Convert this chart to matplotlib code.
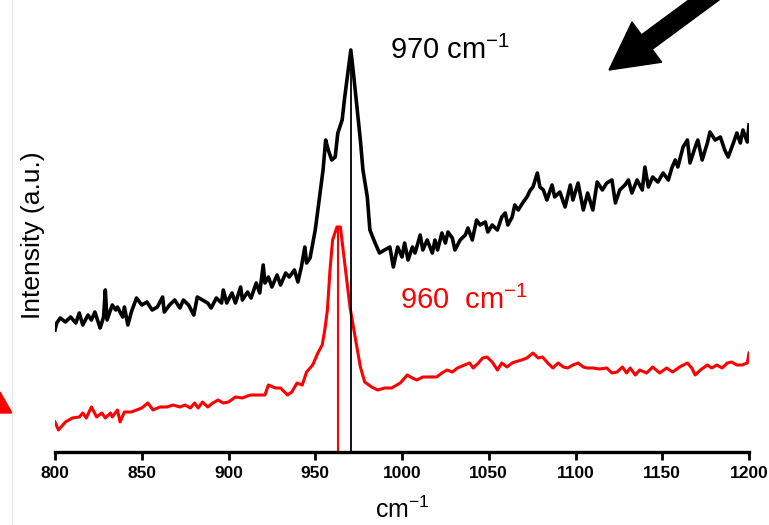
import matplotlib
matplotlib.use("Agg")
import matplotlib.pyplot as plt
from matplotlib.patches import FancyArrow, Polygon
from matplotlib.lines import Line2D

plt.rcParams['font.family'] = ['Liberation Sans', 'DejaVu Sans']
plt.rcParams['mathtext.default'] = 'regular'

# black spectrum (wavenumber, intensity a.u.)
wn_black = [800, 801, 803, 806, 809, 812, 814, 816, 819, 821, 823, 826, 828, 829,
            830, 833, 835, 836, 839, 840, 842, 844, 847, 850, 853, 856, 859, 862,
            863, 866, 869, 872, 874, 877, 880, 882, 885, 888, 890, 893, 896, 897,
            899, 902, 904, 907, 908, 911, 913, 916, 918, 920, 921, 923, 925, 928,
            930, 933, 935, 938, 940, 942, 944, 945, 947, 950, 953, 954.5, 956,
            957.5, 959.5, 961.5, 963, 965.5, 967, 969, 970.5, 972, 974, 976, 977.5,
            980, 981.5, 984.5, 987, 990, 993, 995, 997.5, 1000, 1001.5, 1003.5,
            1006, 1007.5, 1010.5, 1012, 1014.5, 1017.5, 1019, 1020.5, 1023, 1025,
            1026.5, 1029, 1030.5, 1033.5, 1036.5, 1038, 1040.5, 1043, 1045, 1048,
            1049.5, 1052, 1055, 1057.5, 1059.5, 1061, 1063.5, 1065, 1067, 1069.5,
            1072, 1074, 1075.5, 1078, 1079.5, 1081.5, 1083.5, 1086.5, 1088, 1091,
            1094, 1097, 1098.5, 1101.5, 1104.5, 1107, 1110, 1112.5, 1115.5, 1118,
            1121, 1123, 1125.5, 1128.5, 1130.5, 1132.5, 1135.5, 1138.5, 1140, 1142,
            1144.5, 1147.5, 1150.5, 1153.5, 1155.5, 1157.5, 1159, 1162, 1164.5,
            1166, 1169, 1170.5, 1173, 1176, 1177.5, 1180.5, 1183.5, 1186, 1188,
            1191, 1193, 1195, 1196.5, 1199, 1200]
int_black = [122, 129, 134, 130, 135, 129, 139, 127, 137, 132, 140, 124, 135, 162,
             132, 147, 142, 145, 135, 145, 127, 140, 154, 147, 150, 142, 145, 155,
             140, 147, 152, 144, 152, 147, 137, 155, 152, 149, 144, 154, 149, 162,
             149, 159, 149, 165, 152, 160, 154, 169, 159, 187, 169, 175, 165, 177,
             167, 179, 175, 182, 170, 185, 205, 189, 194, 222, 262, 282, 312,
             302, 292, 295, 319, 332, 355, 382, 402, 379, 345, 312, 282,
             255, 222, 209, 199, 202, 205, 185, 205, 195, 209, 192,
             205, 199, 217, 202, 212, 199, 212, 202, 219, 209,
             220, 214, 202, 212, 217, 224, 212, 232, 227, 230,
             220, 227, 222, 235, 239, 227, 235, 247, 242, 249,
             255, 262, 265, 279, 265, 262, 252, 267, 255, 260,
             245, 267, 252, 269, 242, 259, 242, 270, 262, 269,
             272, 249, 262, 267, 272, 259, 272, 262, 285, 265,
             275, 270, 279, 272, 284, 292, 285, 305, 312,
             289, 305, 312, 292, 309, 320, 312, 315, 302, 295,
             309, 319, 309, 322, 310, 327]

# red spectrum
wn_red = [800, 802, 806, 810, 814, 816, 818, 821, 824, 827, 829, 832, 833, 836,
          837.5, 840, 844, 847, 850, 853.5, 856.5, 860.5, 864.5, 868, 872, 875,
          878, 880.5, 882.5, 885, 888, 891, 894, 897, 900, 904, 908, 912.5, 918,
          921, 923, 927, 930, 934, 936.5, 939.5, 942.5, 945, 948.5, 951.5, 954,
          955.5, 957, 958.5, 960, 962.5, 964.5, 967, 970, 973, 976, 978.5, 982.5,
          986, 990, 994, 999, 1003, 1006, 1008.5, 1012, 1016, 1020, 1023, 1026,
          1029, 1032, 1036, 1039, 1041, 1044, 1046.5, 1049, 1052, 1055, 1057.5,
          1060.5, 1063.5, 1065, 1069, 1072, 1075.5, 1078.5, 1081, 1084, 1087,
          1090, 1093, 1095.5, 1098.5, 1101.5, 1104.5, 1107, 1110, 1114, 1118, 1121,
          1124, 1127, 1129.5, 1131.5, 1134.5, 1137, 1141, 1144.5, 1148.5, 1152.5,
          1156, 1160, 1164.5, 1167, 1169, 1172, 1176, 1178.5, 1181.5, 1184.5,
          1187.5, 1190, 1193, 1196, 1199, 1200]
int_red = [30, 22, 30, 34, 35, 39, 34, 45, 35, 39, 34, 39, 35, 42,
           30, 40, 40, 42, 44, 49, 42, 45, 45, 47, 45, 47,
           44, 49, 44, 50, 45, 49, 52, 49, 50, 55, 54, 57, 57,
           57, 67, 64, 64, 57, 60, 69, 67, 80, 87, 99, 107,
           122, 142, 182, 212, 225, 225, 189, 145, 115, 85, 70, 65,
           62, 64, 64, 69, 77, 74, 72, 75, 75, 75, 79, 82,
           80, 84, 87, 89, 84, 89, 94, 95, 90, 82, 89,
           85, 89, 90, 92, 94, 99, 94, 95, 89, 84,
           89, 85, 84, 87, 89, 85, 84, 84, 83, 84, 79,
           80, 85, 79, 84, 77, 82, 79, 85, 79, 84,
           80, 85, 89, 84, 77, 82, 87, 84, 87, 84,
           89, 90, 87, 87, 89, 99]

peak_black = 970.5
peak_black_top = 395
peak_red = 963.4
peak_red_top = 225

xticks = [800, 850, 900, 950, 1000, 1050, 1100, 1150, 1200]

fig = plt.figure(figsize=(7.69, 5.25), dpi=100)
ax = fig.add_axes([55 / 769, 73 / 525, 694 / 769, 452 / 525])

ax.plot(wn_black, int_black, color='black', lw=2.6, solid_joinstyle='round')
ax.plot(wn_red, int_red, color='red', lw=2.2, solid_joinstyle='round')
ax.plot([peak_black, peak_black], [0, peak_black_top], color='black', lw=1.3)
ax.plot([peak_red, peak_red], [0, peak_red_top], color='red', lw=1.5)

ax.set_xlim(800, 1200)
ax.set_ylim(0, 452)
ax.set_xticks(xticks)
ax.set_xticklabels([str(t) for t in xticks], fontweight='bold', fontsize=12.5)
ax.set_yticks([])
for s in ['top', 'right', 'left']:
    ax.spines[s].set_visible(False)
ax.spines['bottom'].set_linewidth(2.4)
ax.tick_params(axis='x', direction='out', length=6, width=2, pad=4)

ax.set_xlabel('cm$^{-1}$', fontsize=18, labelpad=11)
ax.set_ylabel('Intensity (a.u.)', fontsize=19)
ax.yaxis.set_label_coords(-0.014, 0.48)

ax.text(993, 402, '970 cm$^{-1}$', fontsize=21, color='black', va='center')
ax.text(999, 152, '960  cm$^{-1}$', fontsize=21, color='red', va='center')

# black arrow top right (figure inches)
arr = FancyArrow(7.31, 5.45, -1.22, -0.90, width=0.18, head_width=0.50,
                 head_length=0.47, length_includes_head=True, color='black',
                 transform=fig.dpi_scale_trans)
fig.patches.append(arr)

# red arrow head cut off at the left border
tri = Polygon([(0.0, 5.25 - 3.92), (0.12, 5.25 - 4.13), (0.0, 5.25 - 4.13)],
              closed=True, color='red', transform=fig.dpi_scale_trans)
fig.patches.append(tri)

# faint panel border on the left
fig.lines.append(Line2D([0.115, 0.115], [0, 5.25], color='#e6e6e6', lw=0.8,
                        transform=fig.dpi_scale_trans))

fig.savefig('out.png', dpi=100)
